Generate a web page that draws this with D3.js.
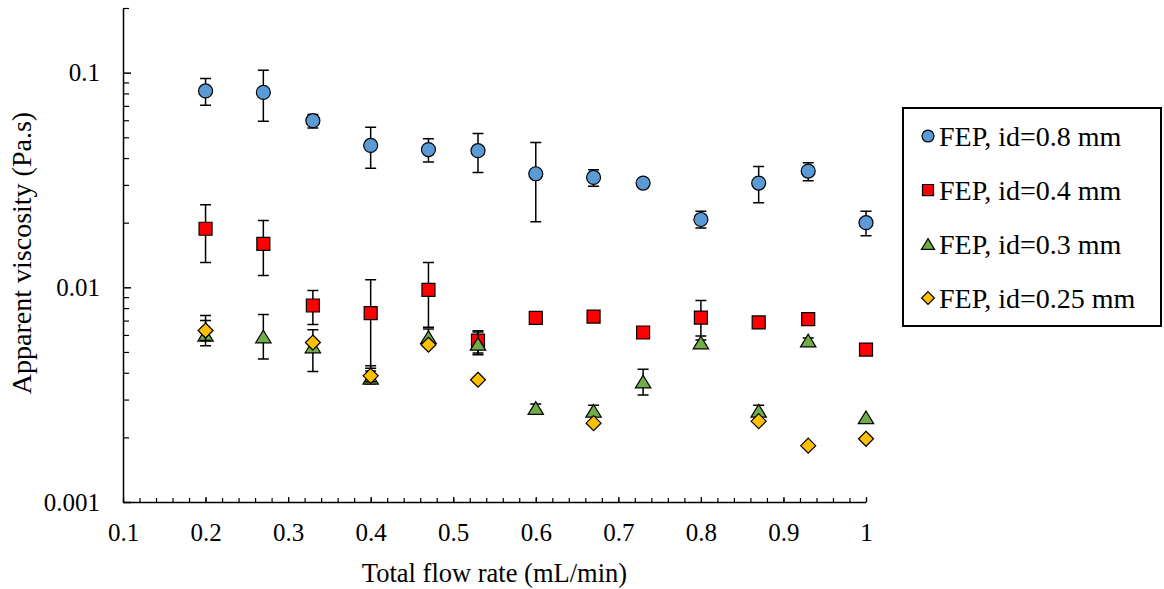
<!DOCTYPE html>
<html>
<head>
<meta charset="utf-8">
<script src="https://cdn.jsdelivr.net/npm/d3@7"></script>
<style>
  body { margin: 0; background: #fff; }
  svg text { font-family: "Liberation Serif", "Times New Roman", serif; fill: #000; }
</style>
</head>
<body>
<script>
// flow rates (mL/min)
const flowRates = [0.2, 0.27, 0.33, 0.4, 0.47, 0.53, 0.6, 0.67, 0.73, 0.8, 0.87, 0.93, 1.0];
const flowRates025 = [0.2, 0.33, 0.4, 0.47, 0.53, 0.67, 0.87, 0.93, 1.0];

// id = 0.8 mm
const visc08 = [0.0822, 0.0809, 0.0597, 0.0458, 0.0438, 0.0433, 0.0338, 0.0325, 0.0306, 0.0207, 0.0306, 0.0348, 0.0200];
const visc08Hi = [0.0938, 0.1025, 0.0639, 0.0556, 0.0492, 0.0521, 0.0473, 0.0353, null, 0.0226, 0.0365, 0.0380, 0.0226];
const visc08Lo = [0.0704, 0.0593, 0.0552, 0.0359, 0.0383, 0.0343, 0.0202, 0.0296, null, 0.0189, 0.0248, 0.0314, 0.0174];

// id = 0.4 mm
const visc04 = [0.01874, 0.01592, 0.00823, 0.00758, 0.00973, 0.00565, 0.00721, 0.00731, 0.00616, 0.00723, 0.00686, 0.00711, 0.00513];
const visc04Hi = [0.02424, 0.02048, 0.00966, 0.01084, 0.01305, 0.00627, null, null, null, 0.00868, null, null, null];
const visc04Lo = [0.01305, 0.01135, 0.00671, 0.00408, 0.00652, 0.00495, null, null, null, 0.00594, null, null, null];

// id = 0.3 mm
const visc03 = [0.00601, 0.0059, 0.0053, 0.00379, 0.00586, 0.00545, 0.00274, 0.00266, 0.00364, 0.00553, 0.00266, 0.00565, 0.00248];
const visc03Hi = [0.0070, 0.00747, 0.00634, 0.0042, 0.00639, 0.0062, 0.00286, 0.00282, 0.00415, 0.00568, 0.00282, 0.0058, null];
const visc03Lo = [0.00535, 0.00463, 0.00405, 0.00355, 0.0054, 0.00485, 0.00268, 0.0026, 0.00315, 0.0054, 0.0026, 0.00552, null];

// id = 0.25 mm
const visc025 = [0.00629, 0.00553, 0.00387, 0.0054, 0.00371, 0.00233, 0.00238, 0.00183, 0.00197];
const visc025Hi = [0.00739, null, 0.00431, null, null, null, null, null, null];
const visc025Lo = [0.00565, null, 0.00363, null, null, null, null, null, null];

const xTicks = [0.1, 0.2, 0.3, 0.4, 0.5, 0.6, 0.7, 0.8, 0.9, 1];
const yTicks = [0.001, 0.01, 0.1];
const seriesNames = ["FEP, id=0.8 mm", "FEP, id=0.4 mm", "FEP, id=0.3 mm", "FEP, id=0.25 mm"];

const W = 1164, H = 589;
const serif = '"Liberation Serif", "Times New Roman", serif';
const svg = d3.select("body").append("svg").attr("width", W).attr("height", H);

const x = d3.scaleLinear().domain([0.1, 1]).range([123, 866]);
const y = d3.scaleLog().domain([0.001, 0.2]).range([502, 8]);

// marker shapes, centred on 0,0
function markerPath(shape, s) {
  const h = s / 2;
  if (shape == "circle") return d3.symbol(d3.symbolCircle, Math.PI * h * h)();
  if (shape == "square") return `M${-h},${-h}H${h}V${h}H${-h}Z`;
  if (shape == "triangle") return `M0,${-h * 0.9}L${h * 1.1},${h * 0.9}L${-h * 1.1},${h * 0.9}Z`;
  if (shape == "diamond") return `M0,${-h}L${h},0L0,${h}L${-h},0Z`;
}

const series = [
  { name: seriesNames[0], xs: flowRates, v: visc08, hi: visc08Hi, lo: visc08Lo, color: "#5B9BD5", shape: "circle", size: 14 },
  { name: seriesNames[1], xs: flowRates, v: visc04, hi: visc04Hi, lo: visc04Lo, color: "#FF0000", shape: "square", size: 13 },
  { name: seriesNames[2], xs: flowRates, v: visc03, hi: visc03Hi, lo: visc03Lo, color: "#70AD47", shape: "triangle", size: 14 },
  { name: seriesNames[3], xs: flowRates025, v: visc025, hi: visc025Hi, lo: visc025Lo, color: "#FFC000", shape: "diamond", size: 15 }
];

// axes
const tickFont = 25;

const xMinor = d3.range(10, 101, 2).map(d => d / 100);
svg.append("g").attr("transform", "translate(0,502)")
  .call(d3.axisBottom(x).tickValues(xMinor).tickSizeInner(-4).tickSizeOuter(0).tickFormat(""))
  .call(g => g.select(".domain").remove())
  .selectAll("line").attr("stroke-width", 1.2);

svg.append("g").attr("transform", "translate(0,502)")
  .call(d3.axisBottom(x).tickValues(xTicks).tickSizeInner(-5).tickSizeOuter(0).tickPadding(21).tickFormat(d3.format("")))
  .attr("font-family", serif).attr("font-size", tickFont)
  .call(g => g.select(".domain").attr("stroke-width", 1.5))
  .selectAll("line").attr("stroke-width", 1.2);

const yMinor = [];
[0.001, 0.01, 0.1].forEach(dec => { for (let k = 2; k <= 9; k++) { const v = dec * k; if (v <= 0.2) yMinor.push(v); } });
svg.append("g").attr("transform", "translate(123,0)")
  .call(d3.axisLeft(y).tickValues(yMinor).tickSizeInner(-6).tickSizeOuter(0).tickFormat(""))
  .call(g => g.select(".domain").remove())
  .selectAll("line").attr("stroke-width", 1.2);

svg.append("g").attr("transform", "translate(123,0)")
  .call(d3.axisLeft(y).tickValues(yTicks).tickSizeInner(-8).tickSizeOuter(0).tickPadding(23).tickFormat(d3.format("")))
  .attr("font-family", serif).attr("font-size", tickFont)
  .call(g => g.select(".domain").attr("stroke-width", 1.5))
  .selectAll("line").attr("stroke-width", 1.5);

// axis titles
svg.append("text").attr("x", (123 + 866) / 2).attr("y", 582)
  .attr("text-anchor", "middle").attr("font-family", serif).style("font-size", "26.5px")
  .text("Total flow rate (mL/min)");

svg.append("text").attr("transform", "translate(31,253) rotate(-90)")
  .attr("text-anchor", "middle").attr("font-family", serif).style("font-size", "28px")
  .text("Apparent viscosity (Pa.s)");

// data
series.forEach(s => {
  const g = svg.append("g");
  const pts = s.xs.map((xv, i) => ({ x: xv, v: s.v[i], hi: s.hi[i], lo: s.lo[i] }));
  const withErr = pts.filter(p => p.hi != null);
  const cap = 5.5;

  g.selectAll(".err").data(withErr).enter().append("path")
    .attr("d", p => {
      const cx = x(p.x), y1 = y(p.hi), y2 = y(p.lo);
      return `M${cx},${y1}V${y2}M${cx - cap},${y1}H${cx + cap}M${cx - cap},${y2}H${cx + cap}`;
    })
    .attr("fill", "none").attr("stroke", "#000").attr("stroke-width", 1.5);

  g.selectAll(".pt").data(pts).enter().append("path")
    .attr("transform", p => `translate(${x(p.x)},${y(p.v)})`)
    .attr("d", markerPath(s.shape, s.size))
    .attr("fill", s.color).attr("stroke", "#000").attr("stroke-width", 1.2);
});

// legend
const leg = svg.append("g");
leg.append("rect").attr("x", 903).attr("y", 108).attr("width", 258).attr("height", 218)
  .attr("fill", "#fff").attr("stroke", "#000").attr("stroke-width", 2);

series.forEach((s, i) => {
  const cy = 136 + i * 54;
  leg.append("path").attr("transform", `translate(928,${cy})`)
    .attr("d", markerPath(s.shape, s.size * 0.85))
    .attr("fill", s.color).attr("stroke", "#000").attr("stroke-width", 1.2);
  leg.append("text").attr("x", 939).attr("y", cy).attr("dy", "0.35em")
    .attr("font-family", serif).style("font-size", "28px").text(s.name);
});
</script>
</body>
</html>
